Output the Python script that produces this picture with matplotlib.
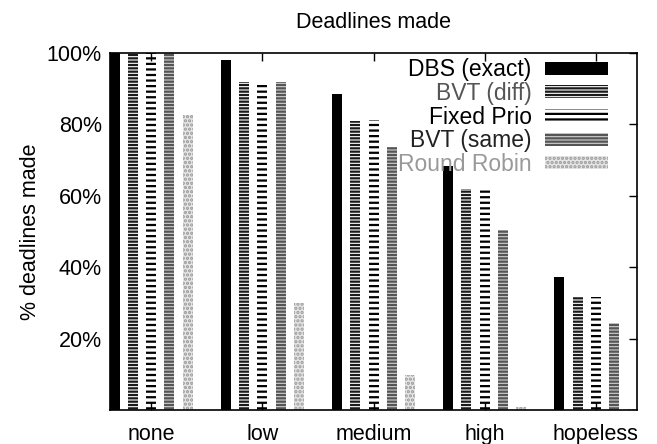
import matplotlib.pyplot as plt
import numpy as np

plt.rcParams['font.family'] = ['Liberation Sans', 'DejaVu Sans']
plt.rcParams['hatch.linewidth'] = 1.6

categories = ['none', 'low', 'medium', 'high', 'hopeless']
series = ['DBS (exact)', 'BVT (diff)', 'Fixed Prio', 'BVT (same)', 'Round Robin']

dbs_exact = [100, 98.1, 88.5, 68.3, 37.2]
bvt_diff = [100, 92.0, 80.9, 62.0, 31.7]
fixed_prio = [100, 92.0, 81.1, 61.8, 31.7]
bvt_same = [100, 92.0, 73.8, 50.4, 24.4]
round_robin = [82.7, 30.1, 9.8, 0.7, 0.2]

values = [dbs_exact, bvt_diff, fixed_prio, bvt_same, round_robin]

# (facecolor, hatch colour, hatch, legend text colour)
styles = [
    ('black', 'black', None, 'black'),
    ('white', '#1a1a1a', '-----', '#555555'),
    ('white', 'black', '---', 'black'),
    ('#d0d0d0', '#555555', '-----', '#222222'),
    ('#e6e6e6', '#9a9a9a', '....', '#999999'),
]

fig = plt.figure(figsize=(6.57, 4.44), dpi=100)
ax = fig.add_axes([0.1674, 0.0766, 0.8022, 0.804])

x = np.arange(len(categories))
step = 0.164
width = 0.09

for k, (name, vals) in enumerate(zip(series, values)):
    fc, hc, hatch, tc = styles[k]
    ax.bar(x + (k - 2) * step, vals, width=width, color=fc, edgecolor=hc,
           hatch=hatch, linewidth=0, label=name)

ax.set_xlim(-0.37, 4.37)
ax.set_ylim(0, 100)
ax.set_xticks(x)
ax.set_xticklabels(categories)
ax.set_yticks([20, 40, 60, 80, 100])
ax.set_yticklabels(['20%', '40%', '60%', '80%', '100%'])
ax.tick_params(direction='in', top=True, right=True, labelsize=15.5,
               length=6, width=1, pad=10)
ax.tick_params(axis='y', pad=6)
for s in ax.spines.values():
    s.set_linewidth(1.2)

ax.set_ylabel('% deadlines made', fontsize=15.5, labelpad=4)
ax.set_title('Deadlines made', fontsize=15.5, pad=18)

leg = ax.legend(loc='upper right', bbox_to_anchor=(0.985, 1.043), frameon=False,
                markerfirst=False, fontsize=16.5, handlelength=2.75,
                handleheight=0.5, labelspacing=0.03, handletextpad=0.6)
for t, st in zip(leg.get_texts(), styles):
    t.set_color(st[3])

fig.savefig('out.png', dpi=100)
